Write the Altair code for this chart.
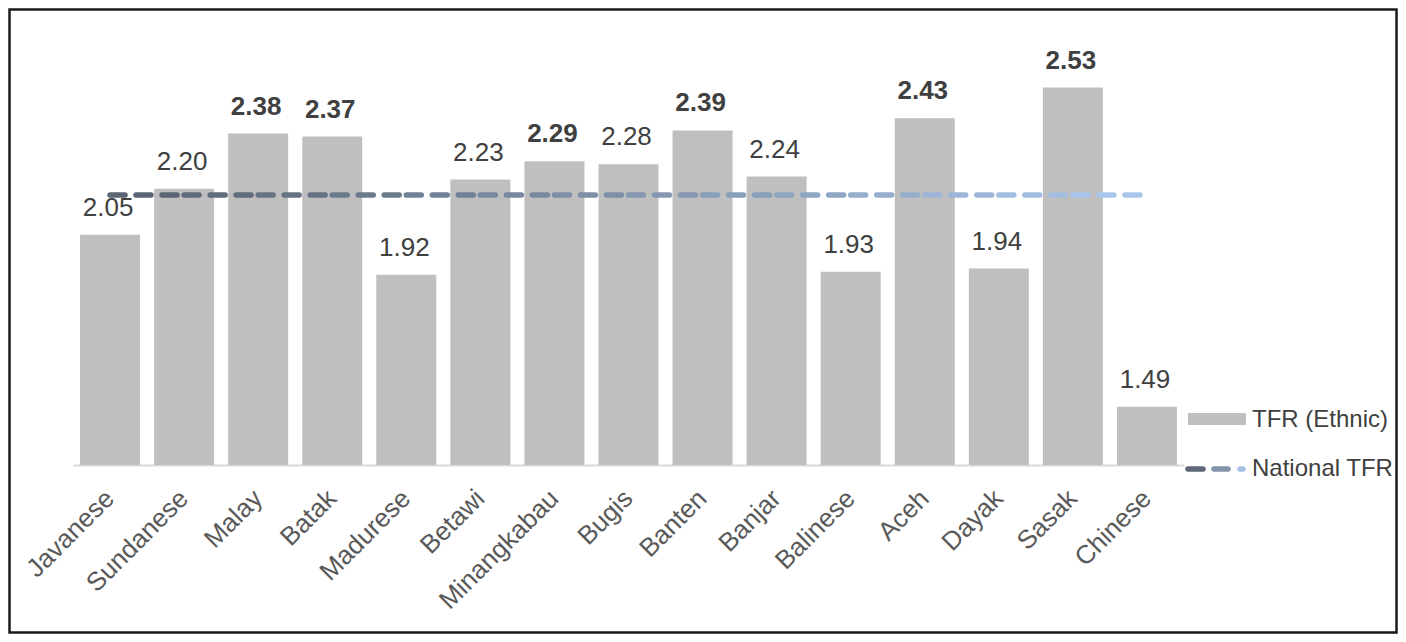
import altair as alt
import pandas as pd

categories = ["Javanese", "Sundanese", "Malay", "Batak", "Madurese", "Betawi",
              "Minangkabau", "Bugis", "Banten", "Banjar", "Balinese", "Aceh",
              "Dayak", "Sasak", "Chinese"]
tfr_ethnic = [2.05, 2.20, 2.38, 2.37, 1.92, 2.23, 2.29, 2.28, 2.39, 2.24,
              1.93, 2.43, 1.94, 2.53, 1.49]
bold_label = [False, False, True, True, False, False, True, False, True, False,
              False, True, False, True, False]
national_tfr = 2.18
legend_labels = ["TFR (Ethnic)", "National TFR"]

FONT = "Liberation Sans"
W, H = 1111, 445
PAD = {"left": 65, "top": 12, "right": 214, "bottom": 169}

bars_df = pd.DataFrame({"ethnic": categories, "tfr": tfr_ethnic, "bold": bold_label})
seg_df = pd.DataFrame({
    "ethnic": categories[:-1],
    "end": categories[1:],
    "idx": list(range(len(categories) - 1)),
    "tfr": [national_tfr] * (len(categories) - 1),
})

xscale = alt.Scale(paddingInner=0.19, paddingOuter=0.095)
yscale = alt.Scale(domain=[1.3, 2.75], nice=False, zero=False)

x_enc = alt.X("ethnic:N", sort=categories, scale=xscale,
              axis=alt.Axis(title=None, labelAngle=-45, labelFontSize=26,
                            labelFont=FONT, labelColor="#595959", ticks=False,
                            labelAlign="right", labelBaseline="middle",
                            domainColor="#d9d9d9", domainWidth=2, labelPadding=29,
                            grid=False))
y_enc = alt.Y("tfr:Q", scale=yscale, axis=None)

base = alt.Chart(bars_df)

bars = base.mark_bar(color="#bfbfbf").encode(x=x_enc, y=y_enc, y2=alt.datum(1.3))

txt_norm = base.transform_filter("!datum.bold").mark_text(
    font=FONT, fontSize=26, color="#404040", baseline="alphabetic", dy=-19, dx=-2
).encode(x=alt.X("ethnic:N", sort=categories), y=y_enc, text=alt.Text("tfr:Q", format=".2f"))

txt_bold = base.transform_filter("datum.bold").mark_text(
    font=FONT, fontSize=26, fontWeight="bold", color="#404040", baseline="alphabetic", dy=-19, dx=-2
).encode(x=alt.X("ethnic:N", sort=categories), y=y_enc, text=alt.Text("tfr:Q", format=".2f"))

nat = alt.Chart(seg_df).mark_rule(strokeWidth=5.5, strokeDash=[15, 11], strokeCap="round").encode(
    x=alt.X("ethnic:N", sort=categories),
    x2=alt.X2("end"),
    y=y_enc,
    color=alt.Color("idx:Q", scale=alt.Scale(range=["#5b6573", "#a9c6ea"]), legend=None),
)

leg_rect = alt.Chart(pd.DataFrame({"a": [0]})).mark_rect(color="#bfbfbf").encode(
    x=alt.value(1115), x2=alt.value(1173), y=alt.value(393), y2=alt.value(405))
leg_d1 = alt.Chart(pd.DataFrame({"a": [0]})).mark_rule(strokeWidth=5.5, strokeCap="round", color="#5f6977").encode(
    x=alt.value(1115), x2=alt.value(1130), y=alt.value(449))
leg_d2 = alt.Chart(pd.DataFrame({"a": [0]})).mark_rule(strokeWidth=5.5, strokeCap="round", color="#8194ab").encode(
    x=alt.value(1141), x2=alt.value(1155), y=alt.value(449))
leg_d3 = alt.Chart(pd.DataFrame({"a": [0]})).mark_rule(strokeWidth=5.5, strokeCap="round", color="#a6c1e2").encode(
    x=alt.value(1167), x2=alt.value(1170), y=alt.value(449))
leg_t1 = alt.Chart(pd.DataFrame({"label": [legend_labels[0]]})).mark_text(
    font=FONT, fontSize=24, color="#404040", align="left", baseline="middle").encode(
    x=alt.value(1179), y=alt.value(400), text="label:N")
leg_t2 = alt.Chart(pd.DataFrame({"label": [legend_labels[1]]})).mark_text(
    font=FONT, fontSize=24, color="#404040", align="left", baseline="middle").encode(
    x=alt.value(1179), y=alt.value(449), text="label:N")

frame = alt.Chart(pd.DataFrame({"a": [0]})).mark_rect(filled=False, stroke="#1a1a1a", strokeWidth=2.5).encode(
    x=alt.value(-PAD["left"] + 1.5), x2=alt.value(W + PAD["right"] - 1.5),
    y=alt.value(-PAD["top"] + 1.5), y2=alt.value(H + PAD["bottom"] - 1.5))

chart = alt.layer(bars, nat, txt_norm, txt_bold, leg_rect, leg_d1, leg_d2, leg_d3,
                  leg_t1, leg_t2, frame).properties(
    width=W, height=H,
    autosize=alt.AutoSizeParams(type="none"),
    padding=PAD,
    background="white",
).configure_view(stroke=None)

chart.save("out.html", embed_options={"renderer": "svg", "actions": False})
